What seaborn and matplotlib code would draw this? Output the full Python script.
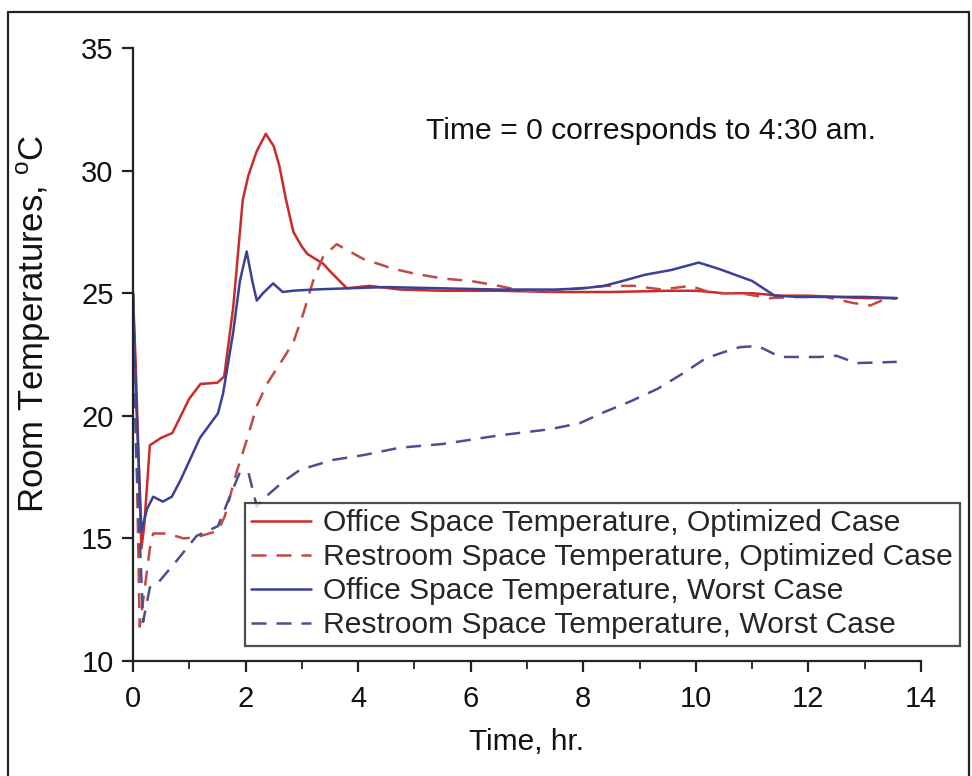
import matplotlib
matplotlib.use("Agg")
import matplotlib.pyplot as plt
from matplotlib.lines import Line2D
import seaborn as sns
import pandas as pd

# ---- data ----
t_office_opt = [0, 0.05, 0.15, 0.2, 0.3, 0.5, 0.7, 0.85, 1.0, 1.2, 1.5, 1.62, 1.78, 1.95, 2.05, 2.2,
                2.36, 2.5, 2.6, 2.72, 2.85, 3.0, 3.1, 3.38, 3.5, 3.8, 4.2, 4.75, 5.5, 6.5, 7.5, 8.5,
                9.5, 10.0, 10.5, 11.0, 11.5, 12.0, 12.5, 13.0, 13.57]
T_office_opt = [25, 22, 14.6, 15.5, 18.8, 19.1, 19.3, 20.0, 20.7, 21.3, 21.35, 21.6, 24.4, 28.8, 29.8, 30.8,
                31.5, 31.0, 30.2, 28.8, 27.5, 26.9, 26.6, 26.2, 25.9, 25.2, 25.3, 25.15, 25.1, 25.1, 25.05, 25.05,
                25.1, 25.1, 25.0, 25.0, 24.9, 24.9, 24.85, 24.8, 24.8]

t_rest_opt = [0, 0.05, 0.12, 0.2, 0.3, 0.36, 0.6, 0.9, 1.13, 1.35, 1.51, 1.63, 1.84, 2.02, 2.2, 2.38,
              2.66, 2.85, 3.03, 3.2, 3.38, 3.62, 3.85, 4.09, 4.62, 5.0, 5.5, 6.0, 6.5, 6.9, 7.46, 7.94,
              8.4, 8.9, 9.4, 9.9, 10.3, 10.8, 11.3, 11.8, 12.3, 12.8, 13.1, 13.3, 13.57]
T_rest_opt = [25, 20, 11.4, 12.8, 14.6, 15.2, 15.2, 15.0, 15.05, 15.2, 15.3, 15.9, 17.7, 19.0, 20.4, 21.3,
              22.3, 23.0, 24.2, 25.5, 26.5, 27.0, 26.7, 26.4, 26.0, 25.8, 25.6, 25.5, 25.3, 25.1, 25.1, 25.2,
              25.3, 25.3, 25.15, 25.3, 25.0, 25.0, 24.8, 24.85, 24.85, 24.6, 24.5, 24.7, 24.8]

t_office_worst = [0, 0.05, 0.15, 0.25, 0.36, 0.53, 0.69, 0.85, 1.01, 1.19, 1.35, 1.51, 1.6, 1.78, 1.9,
                  2.02, 2.12, 2.2, 2.31, 2.49, 2.66, 2.84, 3.2, 3.8, 4.5, 5.5, 6.5, 7.5, 8.0, 8.37, 8.7,
                  9.09, 9.57, 10.05, 10.4, 10.7, 11.0, 11.2, 11.4, 11.8, 12.5, 13.0, 13.57]
T_office_worst = [25, 21, 15.3, 16.2, 16.7, 16.5, 16.7, 17.4, 18.2, 19.1, 19.6, 20.1, 20.9, 23.4, 25.5,
                  26.7, 25.5, 24.7, 25.0, 25.4, 25.05, 25.1, 25.15, 25.2, 25.25, 25.2, 25.15, 25.15, 25.2, 25.3, 25.5,
                  25.75, 25.95, 26.25, 26.0, 25.75, 25.5, 25.2, 24.9, 24.85, 24.85, 24.85, 24.8]

t_rest_worst = [0, 0.05, 0.18, 0.3, 0.45, 0.78, 1.13, 1.51, 1.72, 1.9, 2.05, 2.2, 2.31, 2.66, 2.97,
                3.55, 4.1, 4.74, 5.5, 6.5, 7.4, 7.94, 8.37, 8.85, 9.32, 9.75, 10.18, 10.5, 10.78, 11.1,
                11.5, 12.2, 12.5, 12.85, 13.57]
T_rest_worst = [25, 19, 11.6, 13.0, 13.2, 14.1, 15.1, 15.5, 16.7, 17.7, 17.7, 16.3, 16.6, 17.3, 17.8,
                18.2, 18.4, 18.7, 18.85, 19.2, 19.45, 19.7, 20.15, 20.6, 21.1, 21.7, 22.35, 22.6, 22.8, 22.85,
                22.4, 22.4, 22.45, 22.15, 22.2]

series_labels = ["Office Space Temperature, Optimized Case",
                 "Restroom Space Temperature, Optimized Case",
                 "Office Space Temperature, Worst Case",
                 "Restroom Space Temperature, Worst Case"]
x_ticks = [0, 2, 4, 6, 8, 10, 12, 14]
y_ticks = [10, 15, 20, 25, 30, 35]
annotation = "Time = 0 corresponds to 4:30 am."

# ---- style ----
sns.set_style("ticks")
plt.rcParams['font.family'] = ['Liberation Sans', 'DejaVu Sans']
plt.rcParams['mathtext.fontset'] = 'custom'
plt.rcParams['mathtext.rm'] = 'Liberation Sans'

RED = "#cc2a2a"
RED_D = "#c04a45"
BLUE = "#3a3f98"
BLUE_D = "#4a4f8e"
INK = "#222222"
TXT = "#111111"
LW = 1.8

fig = plt.figure(figsize=(9.72, 7.76), dpi=100)
ax = fig.add_axes([0.1368, 0.1482, 0.8107, 0.7899])

specs = [
    (t_office_opt, T_office_opt, RED, "-"),
    (t_rest_opt, T_rest_opt, RED_D, (0, (6, 4))),
    (t_office_worst, T_office_worst, BLUE, "-"),
    (t_rest_worst, T_rest_worst, BLUE_D, (0, (6, 4))),
]
handles = []
for (tx, ty, col, ls), lab in zip(specs, series_labels):
    df = pd.DataFrame({"t": tx, "T": ty})
    sns.lineplot(data=df, x="t", y="T", ax=ax, color=col, linewidth=LW,
                 linestyle=ls, sort=False, estimator=None)
    handles.append(Line2D([0], [0], color=col, linewidth=LW, linestyle=ls))

ax.set_xlim(0, 14)
ax.set_ylim(10, 35)
ax.set_xticks(x_ticks)
ax.set_xticks(range(0, 15), minor=True)
ax.set_yticks(y_ticks)
for s in ["top", "right"]:
    ax.spines[s].set_visible(False)
for s in ["left", "bottom"]:
    ax.spines[s].set_linewidth(1.6)
    ax.spines[s].set_color(INK)
ax.tick_params(axis="both", which="major", direction="out", length=8, width=1.6,
               color=INK, labelsize=21, labelcolor=TXT, pad=6)
ax.tick_params(axis="x", which="minor", direction="out", length=6, width=1.3, color=INK)
ax.tick_params(axis="x", which="major", pad=9)

ax.set_xlabel("Time, hr.", fontsize=21.5, color=TXT, labelpad=11)
ax.set_ylabel("Room Temperatures, $^{\\mathrm{o}}$C", fontsize=25, color=TXT)
ax.yaxis.set_label_coords(-0.102, 0.55)

ax.text(5.2, 31.6, annotation, fontsize=21.7, color=TXT, ha="left", va="center")

leg = ax.legend(handles, series_labels, loc="upper left", bbox_to_anchor=(0.142, 0.258),
                fontsize=21.6, frameon=True, fancybox=False, edgecolor=INK,
                handlelength=2.0, handletextpad=0.4, labelspacing=0.2, borderpad=0.22,
                borderaxespad=0)
leg.get_frame().set_linewidth(1.6)

# outer frame of the picture
fig.add_artist(Line2D([0.0082, 0.0082], [0.0, 0.985], transform=fig.transFigure, color=INK, lw=1.6))
fig.add_artist(Line2D([0.0082, 0.997], [0.985, 0.985], transform=fig.transFigure, color=INK, lw=1.6))
fig.add_artist(Line2D([0.997, 0.997], [0.0, 0.985], transform=fig.transFigure, color=INK, lw=1.6))

fig.savefig("out.png", dpi=100)
